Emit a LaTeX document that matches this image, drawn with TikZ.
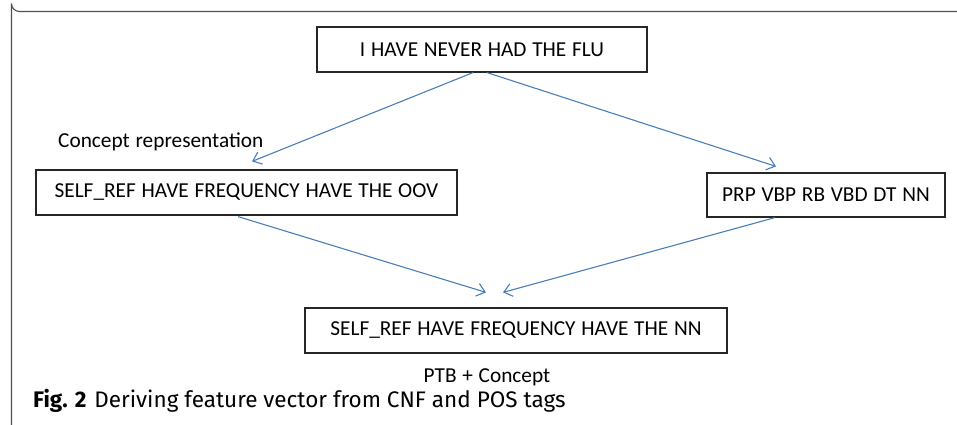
\documentclass[tikz,border=0pt]{standalone}
\usepackage{fontspec}
\setmainfont{Carlito}
\newfontfamily\capfont{Fira Sans}
\usetikzlibrary{arrows.meta,calc}
\definecolor{arrowblue}{RGB}{74,126,187}
\definecolor{framegray}{RGB}{80,80,80}
\newcommand{\boxfont}{\fontsize{21.3}{25}\selectfont\spaceskip=0.27em plus 0.05em minus 0.02em\relax}
\tikzset{
  textbox/.style={draw=black!85, line width=1.2pt, inner sep=0pt, font=\boxfont},
  flow/.style={draw=arrowblue, line width=1.1pt, -{Straight Barb[length=8pt,width=13pt,line width=1.1pt]}},
  plain/.style={font=\boxfont, inner sep=0pt}
}
\begin{document}
\begin{tikzpicture}[x=1pt,y=-1pt]
  \useasboundingbox (0,0) rectangle (957,425);
  % figure frame: top and left rules with a rounded corner
  \draw[framegray, line width=1.1pt] (957,11.5) -- (19.5,11.5) arc[start angle=90, end angle=180, radius=8] -- (11.5,425);

  % sentence boxes
  \node[textbox, minimum width=330pt, minimum height=45pt] (top) at (482,49.5) {I HAVE NEVER HAD THE FLU};
  \node[textbox, minimum width=421pt, minimum height=45pt] (cnf) at (246.5,192.5) {SELF\_REF HAVE FREQUENCY HAVE THE OOV};
  \node[textbox, minimum width=238pt, minimum height=44pt] (pos) at (826,195) {PRP VBP RB VBD DT NN};
  \node[textbox, minimum width=422pt, minimum height=45pt] (out) at (516,330.5) {SELF\_REF HAVE FREQUENCY HAVE THE NN};

  % labels
  \node[plain, anchor=west] (lblcnf) at (58,142) {Concept representation};
  \node[plain] (lblout) at (487,377) {PTB + Concept};

  % connectors
  \draw[flow] ($(top.south)+(-9,0)$) -- ($(cnf.north)+(5.5,-8)$);
  \draw[flow] ($(top.south)+(5,0)$) -- ($(pos.north)+(-50,-6)$);
  \draw[flow] ($(cnf.south)+(-8.5,1)$) -- ($(out.north)+(-30,-15)$);
  \draw[flow] ($(pos.south)+(-51,0)$) -- ($(out.north)+(-13,-15)$);

  % caption
  \node[anchor=west, inner sep=0pt, font=\capfont\fontsize{22.5}{26}\selectfont] (caption) at (33,401)
    {\textbf{Fig. 2}\hspace{8pt}Deriving feature vector from CNF and POS tags};
\end{tikzpicture}
\end{document}
